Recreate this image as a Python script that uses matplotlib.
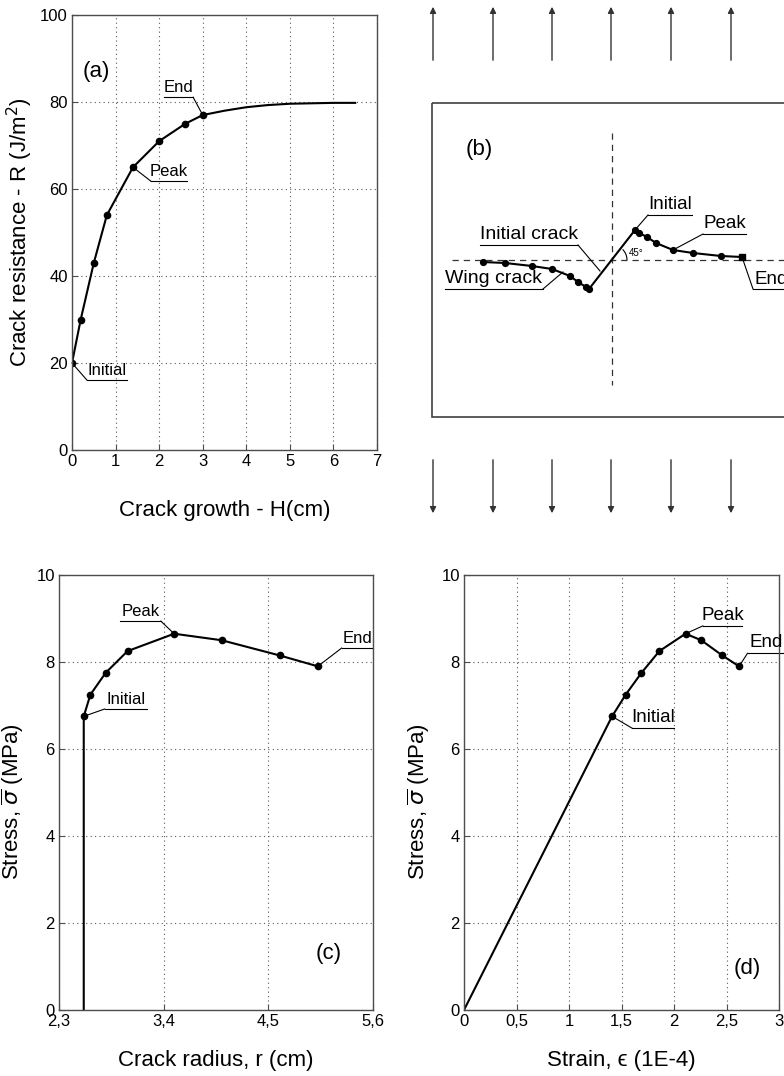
import numpy as np
import matplotlib;matplotlib.use('Agg')
import matplotlib.pyplot as plt
from matplotlib.patches import Rectangle,Arc
plt.rcParams['font.family']=['Liberation Sans','DejaVu Sans']

# (a) R-curve
H_pts=[0,0.2,0.5,0.8,1.4,2.0,2.6,3.0]
R_pts=[20,30,43,54,65,71,75,77]
H_tail=[3.5,4.0,4.5,5.0,5.5,6.0,6.5]
R_tail=[78.0,78.8,79.3,79.6,79.7,79.8,79.8]
# (c) stress vs crack radius
r_pts=[2.56,2.63,2.79,3.02,3.51,4.01,4.62,5.02]
sr_pts=[6.75,7.25,7.75,8.25,8.65,8.5,8.15,7.9]
# (d) stress vs strain
e_pts=[1.41,1.54,1.69,1.86,2.11,2.26,2.46,2.62]
se_pts=[6.75,7.25,7.75,8.25,8.65,8.5,8.15,7.9]
# (b) schematic, drawn in figure pixels
arrow_x=[433,493,552,611,671,731]
lw_x=[483,505,532,552,570,578,586,589];lw_y=[262,263,266,269,276,282,287,289]
ic_x=[589,635];ic_y=[289,230]
rw_x=[635,639,647,656,673,693,721,742];rw_y=[230,233,237,243,250,253,256,257]

W,Hh=784,1076
fig=plt.figure(figsize=(W/100,Hh/100),dpi=100)

# overlay for schematic (b)
ov=fig.add_axes([0,0,1,1]);ov.set_xlim(0,W);ov.set_ylim(Hh,0);ov.axis('off')
for x in arrow_x:
    ov.annotate('',xy=(x,4),xytext=(x,63),arrowprops=dict(arrowstyle='-|>',lw=1,color='0.2',mutation_scale=9))
    ov.annotate('',xy=(x,516),xytext=(x,457),arrowprops=dict(arrowstyle='-|>',lw=1,color='0.2',mutation_scale=9))
ov.add_patch(Rectangle((432,103),400,314,fill=False,lw=1.2,ec='0.25'))
ov.plot([452,784],[260,260],ls=(0,(5,4)),lw=0.9,color='0.2')
ov.plot([612,612],[133,385],ls=(0,(5,4)),lw=0.9,color='0.2')
ov.plot(lw_x,lw_y,'k-',lw=1.5);ov.plot(lw_x,lw_y,'ko',ms=4.2)
ov.plot(ic_x,ic_y,'k-',lw=1.5)
ov.plot(rw_x,rw_y,'k-',lw=1.5);ov.plot(rw_x[:-1],rw_y[:-1],'ko',ms=4.2);ov.plot(rw_x[-1],rw_y[-1],'ks',ms=4.2)
ov.add_patch(Arc((612,260),30,30,theta1=-45,theta2=0,lw=0.8,color='k'))
ov.text(629,253,'45°',fontsize=7,va='center')
ov.text(466,150,'(b)',fontsize=16,va='center')

def tag(ax,pt,x0,x1,y,txt,fs,lw=0.8):
    xj=x0 if abs(pt[0]-x0)<abs(pt[0]-x1) else x1
    ax.plot([pt[0],xj],[pt[1],y],'k-',lw=lw,clip_on=False)
    ax.plot([x0,x1],[y,y],'k-',lw=lw,clip_on=False)
    ax.annotate(txt,xy=((x0+x1)/2,y),xytext=(0,1.5),textcoords='offset points',ha='center',va='bottom',fontsize=fs,annotation_clip=False)

tag(ov,(600,271),480,578,245,'Initial crack',14)
tag(ov,(563,272),445,543,289,'Wing crack',14)
tag(ov,(635,230),648,692,215,'Initial',13.5)
tag(ov,(673,250),703,746,234,'Peak',13.5)
tag(ov,(742,257),753,800,289,'',13.5)
ov.text(755,288,'End',fontsize=13.5,va='bottom')

def style(ax):
    ax.grid(True,ls=(0,(1,3)),color='0.35',lw=0.8)
    ax.tick_params(direction='in',length=4,labelsize=12,color='0.3',pad=3)
    for s in ax.spines.values():s.set_color('0.3');s.set_linewidth(1)

# (a)
ax=fig.add_axes([72/W,1-450/Hh,305/W,435/Hh])
ax.plot(H_pts+H_tail,R_pts+R_tail,'k-',lw=1.5)
ax.plot(H_pts,R_pts,'ko',ms=4.5)
ax.set_xlim(0,7);ax.set_ylim(0,100)
ax.set_xticks(range(8));ax.set_yticks(range(0,101,20))
style(ax)
ax.set_xlabel('Crack growth - H(cm)',fontsize=16);ax.xaxis.set_label_coords(0.5,-0.115)
ax.set_ylabel('Crack resistance - R (J/m$^2$)',fontsize=16);ax.yaxis.set_label_coords(-0.12,0.5)
ax.text(0.035,0.87,'(a)',transform=ax.transAxes,fontsize=16,va='center')
tag(ax,(3.0,77),2.11,2.78,81.1,'End',12)
tag(ax,(1.4,65),1.81,2.64,61.8,'Peak',12)
tag(ax,(0,20),0.34,1.26,16.1,'Initial',12)

# (c)
ax=fig.add_axes([59/W,1-1010/Hh,314/W,435/Hh])
ax.plot([r_pts[0]]+r_pts,[0]+sr_pts,'k-',lw=1.5)
ax.plot(r_pts,sr_pts,'ko',ms=4.5)
ax.set_xlim(2.3,5.6);ax.set_ylim(0,10)
ax.set_xticks([2.3,3.4,4.5,5.6]);ax.set_xticklabels(['2,3','3,4','4,5','5,6'])
ax.set_yticks(range(0,11,2))
style(ax)
ax.set_xlabel('Crack radius, r (cm)',fontsize=16);ax.xaxis.set_label_coords(0.5,-0.092)
ax.set_ylabel(r'Stress, $\overline{\sigma}$ (MPa)',fontsize=16);ax.yaxis.set_label_coords(-0.105,0.48)
ax.text(0.86,0.13,'(c)',transform=ax.transAxes,fontsize=16,ha='center',va='center')
tag(ax,(3.51,8.65),2.94,3.37,8.94,'Peak',12)
tag(ax,(5.02,7.9),5.27,5.6,8.32,'End',12)
tag(ax,(2.56,6.75),2.78,3.22,6.92,'Initial',12)

# (d)
ax=fig.add_axes([464/W,1-1010/Hh,315/W,435/Hh])
ax.plot([0]+e_pts,[0]+se_pts,'k-',lw=1.5)
ax.plot(e_pts,se_pts,'ko',ms=4.5)
ax.set_xlim(0,3);ax.set_ylim(0,10)
ax.set_xticks([0,0.5,1,1.5,2,2.5,3]);ax.set_xticklabels(['0','0,5','1','1,5','2','2,5','3'])
ax.set_yticks(range(0,11,2))
style(ax)
ax.set_xlabel('Strain, \u03f5 (1E-4)',fontsize=16);ax.xaxis.set_label_coords(0.5,-0.092)
ax.set_ylabel(r'Stress, $\overline{\sigma}$ (MPa)',fontsize=16);ax.yaxis.set_label_coords(-0.1,0.48)
ax.text(0.9,0.095,'(d)',transform=ax.transAxes,fontsize=16,ha='center',va='center')
tag(ax,(2.11,8.65),2.275,2.65,8.83,'Peak',13.5)
tag(ax,(2.62,7.9),2.70,3.05,8.2,'End',13.5)
tag(ax,(1.41,6.75),1.6,2.0,6.48,'Initial',13.5)

fig.savefig('out.png',dpi=100)
